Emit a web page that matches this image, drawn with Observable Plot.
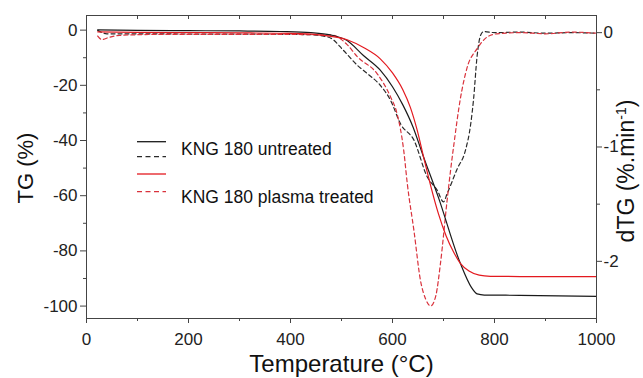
<!DOCTYPE html>
<html><head><meta charset="utf-8">
<script src="https://cdn.jsdelivr.net/npm/d3@7"></script>
<script src="https://cdn.jsdelivr.net/npm/@observablehq/plot@0.6"></script>
<style>
body{margin:0;background:#fff;}
#wrap{position:relative;width:643px;height:378px;font-family:"Liberation Sans",Arial,sans-serif;}
#legend{position:absolute;left:0;top:0;pointer-events:none;}
</style></head><body><div id="wrap"></div>
<script>
// ---- data ----
const untreatedTG_T = [22, 100, 200, 300, 380, 440, 478, 511, 543, 576, 600, 620, 640, 660, 690, 733, 755, 766, 780, 850, 1000];
const untreatedTG   = [0.1, -0.1, -0.2, -0.3, -0.5, -0.9, -1.7, -3.8, -9.2, -14.5, -20.5, -27.0, -35.0, -45.5, -60.6, -84.5, -93.3, -95.6, -96.0, -96.1, -96.5];

const plasmaTG_T = [22, 100, 200, 300, 400, 460, 511, 545, 576, 600, 620, 635, 648, 661, 675, 690, 705, 720, 733, 750, 770, 792, 850, 1000];
const plasmaTG   = [-0.6, -0.8, -0.9, -1.0, -1.2, -1.8, -3.5, -6.5, -10.4, -15.5, -21.5, -28.0, -36.0, -46.0, -56.5, -66.5, -74.5, -80.5, -84.5, -87.3, -88.8, -89.2, -89.3, -89.3];

const untreatedDTG_T = [22, 40, 100, 200, 300, 400, 440, 465, 480, 504, 531, 550, 576, 596, 616, 642, 668, 688, 700, 707, 727, 743, 753, 759, 766, 773, 779, 800, 850, 900, 950, 1000];
const untreatedDTG   = [0.02, -0.01, -0.01, -0.012, -0.013, -0.015, -0.018, -0.03, -0.05, -0.156, -0.285, -0.356, -0.46, -0.59, -0.80, -0.94, -1.26, -1.38, -1.48, -1.41, -1.19, -1.03, -0.81, -0.58, -0.20, -0.02, 0.01, 0.0, 0.005, -0.005, 0.0, -0.005];

const plasmaDTG_T = [22, 30, 45, 65, 100, 150, 300, 400, 450, 484, 510, 531, 570, 596, 609, 622, 629, 642, 655, 665, 675, 685, 694, 707, 714, 720, 733, 746, 766, 785, 805, 850, 900, 950, 1000];
const plasmaDTG   = [-0.03, -0.06, -0.04, -0.024, -0.018, -0.015, -0.015, -0.016, -0.018, -0.024, -0.1, -0.21, -0.36, -0.56, -0.71, -1.03, -1.32, -1.73, -2.17, -2.33, -2.39, -2.30, -2.02, -1.47, -1.20, -0.99, -0.58, -0.31, -0.14, -0.04, -0.01, 0.0, -0.01, 0.005, -0.005];

const xMajor = [0, 200, 400, 600, 800, 1000];
const xMinor = [100, 300, 500, 700, 900];
const xTop = [100, 200, 300, 400, 500, 600, 700, 800, 900];
const yMajor = [0, -20, -40, -60, -80, -100];
const yMinor = [-10, -30, -50, -70, -90];
const dMajor = [0, -1, -2];
const dMinor = [-0.5, -1.5];

const legendLabels = ["KNG 180 untreated", "KNG 180 plasma treated"];

// ---- scales ----
const yDom = [-104.5, 5.3];
const dDom = [-2.5, 0.15];
const toY = d => yDom[0] + (d - dDom[0]) / (dDom[1] - dDom[0]) * (yDom[1] - yDom[0]);
const fromY = y => dDom[0] + (y - yDom[0]) / (yDom[1] - yDom[0]) * (dDom[1] - dDom[0]);

const zip = (xs, ys, f = v => v) => xs.map((x, i) => ({x, y: f(ys[i])}));

const BLACK = "#1a1a1a", RED = "#e3191f", RED_D = "#d9323c", BLACK_D = "#2a2a2a";
const W = 643, H = 378, ML = 86, MR = 47, MT = 15, MB = 60;
const innerH = H - MT - MB;

const fmt = d => String(Math.round(d * 100) / 100);

const svg = Plot.plot({
  width: W, height: H,
  marginLeft: ML, marginRight: MR, marginTop: MT, marginBottom: MB,
  style: {fontFamily: "'Liberation Sans', Arial, sans-serif", background: "white", color: "#222"},
  x: {domain: [0, 1000]},
  y: {domain: yDom},
  marks: [
    Plot.line(zip(untreatedDTG_T, untreatedDTG, toY), {x: "x", y: "y", stroke: BLACK_D, strokeWidth: 1.2, strokeDasharray: "4,3", curve: "monotone-x"}),
    Plot.line(zip(plasmaDTG_T, plasmaDTG, toY), {x: "x", y: "y", stroke: RED_D, strokeWidth: 1.2, strokeDasharray: "4,3", curve: "monotone-x"}),
    Plot.line(zip(untreatedTG_T, untreatedTG), {x: "x", y: "y", stroke: BLACK, strokeWidth: 1.2, curve: "monotone-x"}),
    Plot.line(zip(plasmaTG_T, plasmaTG), {x: "x", y: "y", stroke: RED, strokeWidth: 1.2, curve: "monotone-x"}),
    Plot.frame({stroke: "#444"}),
    // bottom axis
    Plot.axisX({ticks: xMajor, tickSize: 5, tickPadding: 9, tickFormat: fmt, fontSize: 17, label: null, stroke: "#444", color: "#222"}),
    Plot.axisX({ticks: xMinor, tickSize: 3, tickFormat: () => "", label: null, stroke: "#444"}),
    // top inward ticks
    Plot.tickX(xTop, {x: d => d, insetBottom: innerH - 4, stroke: "#444"}),
    // left axis
    Plot.axisY({ticks: yMajor, tickSize: 6, tickPadding: 3, tickFormat: fmt, fontSize: 17, label: null, stroke: "#444", color: "#222"}),
    Plot.axisY({ticks: yMinor, tickSize: 3, tickFormat: () => "", label: null, stroke: "#444"}),
    // right axis (dTG)
    Plot.axisY({anchor: "right", ticks: dMajor.map(toY), tickSize: 5, tickPadding: 2, tickFormat: y => fmt(fromY(y)), fontSize: 17, label: null, stroke: "#444", color: "#222"}),
    Plot.axisY({anchor: "right", ticks: dMinor.map(toY), tickSize: 3, tickFormat: () => "", label: null, stroke: "#444"}),
    // axis titles
    Plot.text(["Temperature (°C)"], {frameAnchor: "bottom", textAnchor: "middle", lineAnchor: "middle", dy: 46, fontSize: 24, fill: "#111"}),
    Plot.text(["TG (%)"], {frameAnchor: "left", textAnchor: "middle", lineAnchor: "middle", rotate: -90, dx: -61, dy: 1, fontSize: 22, fill: "#111"}),
    Plot.text(["dTG (%.min-1)"], {frameAnchor: "right", textAnchor: "middle", lineAnchor: "middle", rotate: -90, dx: 30, dy: 4, fontSize: 23, fill: "#111"})
  ]
});

// superscript in the right-hand title
svg.querySelectorAll("text").forEach(t => {
  if (t.textContent === "dTG (%.min-1)") {
    t.textContent = "";
    const ns = "http://www.w3.org/2000/svg";
    const a = document.createElementNS(ns, "tspan"); a.textContent = "dTG (%.min";
    const b = document.createElementNS(ns, "tspan"); b.textContent = "-1";
    b.setAttribute("baseline-shift", "super"); b.setAttribute("font-size", "14");
    const c = document.createElementNS(ns, "tspan"); c.textContent = ")";
    t.append(a, b, c);
  }
});

const wrap = document.getElementById("wrap");
wrap.appendChild(svg);

// legend overlay
const lg = d3.select(wrap).append("svg").attr("id", "legend").attr("width", W).attr("height", H);
const rows = [
  {y: 141.7, stroke: BLACK, dash: null},
  {y: 156.7, stroke: BLACK_D, dash: "5,3.5"},
  {y: 174, stroke: RED, dash: null},
  {y: 191.7, stroke: RED_D, dash: "5,3.5"}
];
rows.forEach(r => {
  const l = lg.append("line").attr("x1", 137).attr("x2", 166).attr("y1", r.y).attr("y2", r.y)
    .attr("stroke", r.stroke).attr("stroke-width", 1.3);
  if (r.dash) l.attr("stroke-dasharray", r.dash);
});
lg.append("text").attr("x", 181).attr("y", 154.5).attr("font-size", 17.5).attr("fill", "#111")
  .attr("font-family", "'Liberation Sans', Arial, sans-serif").text(legendLabels[0]);
lg.append("text").attr("x", 181).attr("y", 202.5).attr("font-size", 17.5).attr("fill", "#111")
  .attr("font-family", "'Liberation Sans', Arial, sans-serif").text(legendLabels[1]);
</script></body></html>
